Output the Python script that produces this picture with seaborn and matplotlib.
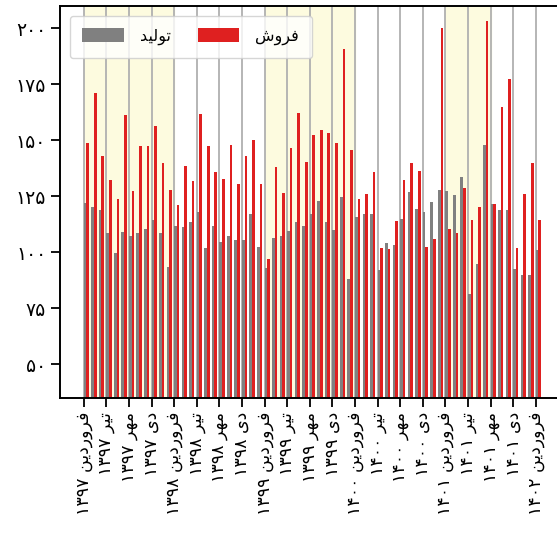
import pandas as pd
import seaborn as sns
import matplotlib
matplotlib.use("Agg")
import matplotlib.pyplot as plt

# ------------------------- Data ------------------------- #
# monthly index 0 = فروردین ۱۳۹۷ ... 60 = فروردین ۱۴۰۲
production = [122, 120.2, 119, 108.6, 99.7, 109, 107.1, 108.6, 110.4, 114.3,
              108.6, 93.5, 112, 111.3, 113.5, 118, 102, 112, 104.6, 107.1,
              105.7, 105.4, 117, 102.4, 93, 106.6, 107.3, 109.5, 113.5, 111.6,
              117, 122.9, 113.5, 110.1, 124.7, 88, 115.8, 117.3, 117.3, 92,
              104.3, 103.4, 115, 126.9, 119.5, 118, 122.5, 128, 127.4, 125.4,
              133.6, 81.6, 94.6, 148.1, 121.7, 118.8, 118.8, 92.7, 89.7, 89.7,
              101.2]
sales = [149, 171, 143, 132.5, 124, 161.5, 127.4, 147.5, 147.5, 156.4,
         140, 128, 121, 138.5, 131.7, 161.9, 147.5, 135.9, 132.9, 147.9,
         130.7, 143, 150.3, 130.5, 97.2, 138.2, 126.5, 146.6, 162.4, 140.3,
         152.2, 154.5, 153.3, 148.8, 190.9, 145.8, 124, 126, 136, 102.1,
         101.3, 114, 132.5, 140, 136.3, 102.4, 105.8, 200.3, 110.3, 108.6,
         128.9, 114.6, 120.2, 203.3, 121.5, 164.9, 177.5, 102.1, 126, 140,
         114.3]
series_names = ["تولید", "فروش"]
tick_labels = ["فروردین ۱۳۹۷", "تیر ۱۳۹۷", "مهر ۱۳۹۷", "دی ۱۳۹۷",
               "فروردین ۱۳۹۸", "تیر ۱۳۹۸", "مهر ۱۳۹۸", "دی ۱۳۹۸",
               "فروردین ۱۳۹۹", "تیر ۱۳۹۹", "مهر ۱۳۹۹", "دی ۱۳۹۹",
               "فروردین ۱۴۰۰", "تیر ۱۴۰۰", "مهر ۱۴۰۰", "دی ۱۴۰۰",
               "فروردین ۱۴۰۱", "تیر ۱۴۰۱", "مهر ۱۴۰۱", "دی ۱۴۰۱",
               "فروردین ۱۴۰۲"]
y_ticks = [50, 75, 100, 125, 150, 175, 200]
y_tick_labels = ["۵۰", "۷۵", "۱۰۰", "۱۲۵", "۱۵۰", "۱۷۵", "۲۰۰"]
# highlighted periods (month index start, end)
shaded = [(0, 12), (24, 36), (48, 54)]

# ------------------ simple Persian shaping ------------------ #
# (isolated, final, initial, medial)
FORMS = {
    "ف": (0xFED1, 0xFED2, 0xFED3, 0xFED4),
    "ر": (0xFEAD, 0xFEAE, None, None),
    "و": (0xFEED, 0xFEEE, None, None),
    "د": (0xFEA9, 0xFEAA, None, None),
    "ن": (0xFEE5, 0xFEE6, 0xFEE7, 0xFEE8),
    "ت": (0xFE95, 0xFE96, 0xFE97, 0xFE98),
    "م": (0xFEE1, 0xFEE2, 0xFEE3, 0xFEE4),
    "ه": (0xFEE9, 0xFEEA, 0xFEEB, 0xFEEC),
    "ل": (0xFEDD, 0xFEDE, 0xFEDF, 0xFEE0),
    "ش": (0xFEB5, 0xFEB6, 0xFEB7, 0xFEB8),
    "ی": (0xFBFC, 0xFBFD, 0xFBFE, 0xFBFF),
}


def shape_word(w):
    out = []
    for i, ch in enumerate(w):
        if ch not in FORMS:
            out.append(ch)
            continue
        iso, fin, ini, med = FORMS[ch]
        prev = w[i - 1] if i > 0 else None
        nxt = w[i + 1] if i < len(w) - 1 else None
        jp = prev in FORMS and FORMS[prev][2] is not None
        jn = nxt in FORMS and ini is not None
        if jp and jn:
            c = med
        elif jp:
            c = fin
        elif jn:
            c = ini
        else:
            c = iso
        out.append(chr(c))
    return "".join(out)


def rtl(text):
    tokens = text.split(" ")
    vis = [shape_word(t)[::-1] if any(c in FORMS for c in t) else t for t in tokens]
    return " ".join(vis[::-1])


# ----------------------- Plot ------------------------ #
plt.rcParams["font.family"] = ["DejaVu Sans"]
plt.rcParams["axes.linewidth"] = 1.4

n = len(sales)
df = pd.DataFrame({
    "month": list(range(n)) * 2,
    "value": production + sales,
    "series": [rtl(series_names[0])] * n + [rtl(series_names[1])] * n,
})
hue_order = [rtl(s) for s in series_names]
palette = dict(zip(hue_order, ["grey", "red"]))
bar_w = 0.7

fig = plt.figure(figsize=(5.57, 5.5), dpi=100)
ax = fig.add_axes([0.1077, 0.2764, 0.905, 0.7127])

for a, b in shaded:
    ax.axvspan(a - bar_w / 2, b - bar_w / 2, color="#fdfbdf", zorder=0)

sns.barplot(data=df, x="month", y="value", hue="series", hue_order=hue_order,
            palette=palette, width=bar_w, errorbar=None, linewidth=0, ax=ax)

ax.set_axisbelow(True)
tick_pos = [i - bar_w / 2 for i in range(0, n, 3)]
ax.set_xticks(tick_pos, [rtl(t) for t in tick_labels], rotation=90, fontsize=12.5)
ax.set_yticks(y_ticks, y_tick_labels, fontsize=13.5)
ax.tick_params(axis="both", length=6.5, width=1.3)
ax.xaxis.grid(True, color="#b0b0b0", linewidth=1.3)
ax.yaxis.grid(False)
ax.set_xlim(-3.5, 63.4)
ax.set_ylim(35, 210)
ax.set_xlabel("")
ax.set_ylabel("")

ax.legend(loc="upper left", ncol=2, fontsize=11.5, handlelength=2.6,
          handleheight=0.95, columnspacing=1.7, handletextpad=1.0,
          borderpad=0.8, borderaxespad=0.6)

fig.savefig("out.png", dpi=100)
plt.close(fig)
